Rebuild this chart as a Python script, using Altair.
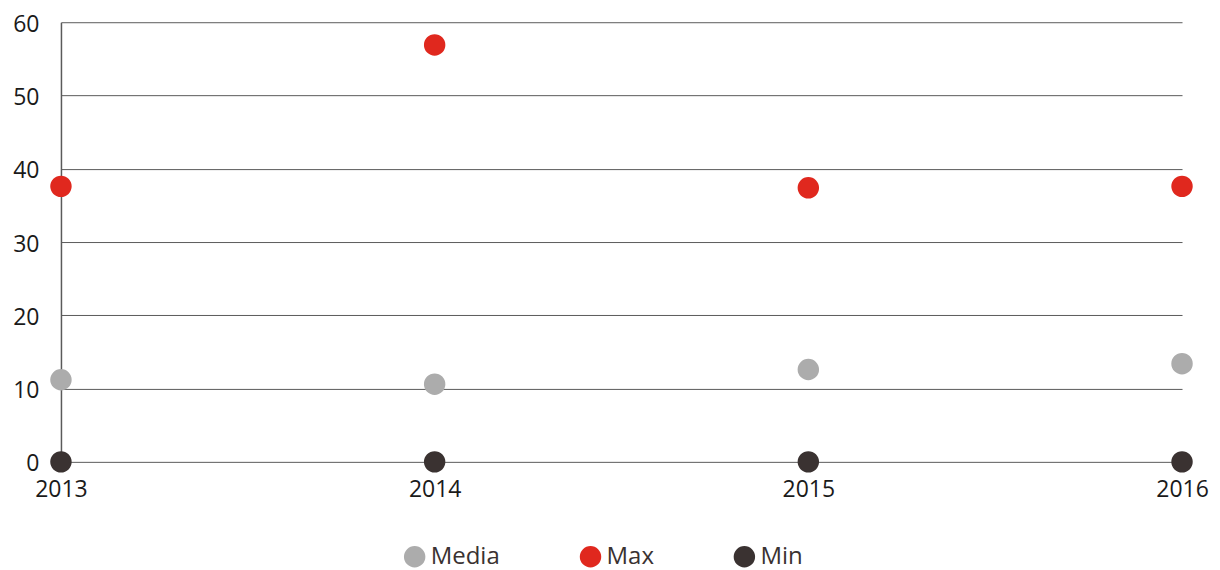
import altair as alt
import pandas as pd

years = [2013, 2014, 2015, 2016]
media = [11.2, 10.6, 12.6, 13.4]
maxv = [37.6, 56.9, 37.4, 37.6]
minv = [0, 0, 0, 0]
series = ["Media", "Max", "Min"]
colors = ["#acacac", "#e0281e", "#3a3231"]

rows = []
for name, vals in zip(series, [media, maxv, minv]):
    for y, v in zip(years, vals):
        rows.append({"year": y, "series": name, "value": v})
df = pd.DataFrame(rows)

FONT = "Open Sans"

chart = alt.Chart(df).mark_circle(size=460, opacity=1).encode(
    x=alt.X("year:Q", scale=alt.Scale(domain=[2013, 2016], nice=False, zero=False),
            axis=alt.Axis(values=years, format="d", title=None, grid=False, ticks=False,
                          domain=False, labelFontSize=23, labelColor="#1a1a1a",
                          labelPadding=17, labelFont=FONT, labelFlush=False)),
    y=alt.Y("value:Q", scale=alt.Scale(domain=[0, 60], nice=False),
            axis=alt.Axis(values=[0, 10, 20, 30, 40, 50, 60], title=None, grid=True,
                          gridColor="#5a5a5a", gridWidth=1, ticks=False,
                          domain=True, domainColor="#5a5a5a", domainWidth=1.5,
                          labelFontSize=23, labelColor="#1a1a1a", labelPadding=22,
                          labelOffset=2, labelFont=FONT)),
    color=alt.Color("series:N", sort=series,
                    scale=alt.Scale(domain=series, range=colors),
                    legend=alt.Legend(title=None, orient="none", direction="horizontal",
                                      legendX=342, legendY=523,
                                      symbolType="circle", symbolSize=460,
                                      labelFontSize=24, labelFont=FONT, labelColor="#3a3231",
                                      columnPadding=78, labelOffset=4, symbolStrokeWidth=0,
                                      symbolOpacity=1)),
    order=alt.Order("series:N", sort="ascending"),
).properties(
    width=1122, height=440,
    autosize=alt.AutoSizeParams(type="none"),
    padding={"left": 53, "top": 14, "right": 30, "bottom": 110},
).configure_view(stroke=None)

chart.save("out.html", embed_options={"renderer": "svg", "actions": False})
